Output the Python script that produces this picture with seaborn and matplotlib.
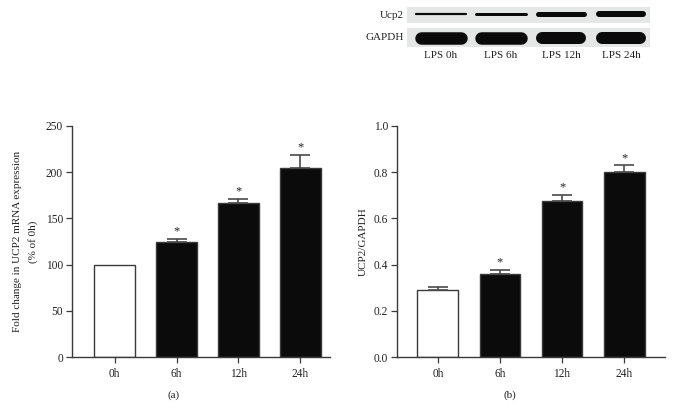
import numpy as np
import matplotlib
matplotlib.use("Agg")
import matplotlib.pyplot as plt
import seaborn as sns
import pandas as pd

# data
times = ["0h", "6h", "12h", "24h"]
mrna = [100, 125, 167, 205]
mrna_err = [0, 3, 4, 14]
ratio = [0.29, 0.36, 0.675, 0.80]
ratio_err = [0.015, 0.018, 0.028, 0.03]
bar_colors = ["white", "#0b0b0b", "#0b0b0b", "#0b0b0b"]

# western blot lanes
lanes = ["LPS 0h", "LPS 6h", "LPS 12h", "LPS 24h"]
ucp2_band = [2.2, 3.0, 5.0, 6.0]      # band thickness, px
ucp2_len = [0.84, 0.82, 0.76, 0.72]
gapdh_band = [12.5, 12.5, 12.0, 12.0]
gapdh_len = [0.68, 0.66, 0.64, 0.62]

sns.set_style("ticks")
plt.rcParams['font.family'] = ['Liberation Serif', 'DejaVu Serif']
plt.rcParams['font.size'] = 8

W, H = 674, 417
fig = plt.figure(figsize=(W / 100, H / 100), dpi=100)

def fx(px):
    return px / W

def fy(py):
    return 1 - py / H

ax1 = fig.add_axes([fx(72), fy(357), fx(330 - 72), fy(126) - fy(357)])
ax2 = fig.add_axes([fx(397), fy(357), fx(665 - 397), fy(126) - fy(357)])

edge = "#3a3a3a"
txt = "#222222"

def draw(ax, vals, errs, ymax, xlim, ticks, fmt):
    df = pd.DataFrame({"time": times, "val": vals})
    sns.barplot(data=df, x="time", y="val", hue="time", palette=bar_colors,
                width=0.66, edgecolor=edge, linewidth=1.0, legend=False,
                errorbar=None, ax=ax)
    for i, (v, e) in enumerate(zip(vals, errs)):
        if e > 0:
            ax.errorbar(i, v, yerr=[[0], [e]], fmt="none", ecolor="#4a4a4a",
                        elinewidth=1.2, capsize=7.5, capthick=1.2, zorder=1)
        if i > 0:
            ax.text(i, v + e + ymax * 0.006, "*", ha="center", va="bottom",
                    fontsize=9, color=txt)
    ax.set_ylim(0, ymax)
    ax.set_xlim(*xlim)
    ax.set_yticks(ticks)
    ax.set_yticklabels([fmt % t for t in ticks])
    sns.despine(ax=ax)
    ax.spines["left"].set_color(edge)
    ax.spines["bottom"].set_color(edge)
    ax.spines["left"].set_linewidth(1.0)
    ax.spines["bottom"].set_linewidth(1.0)
    ax.tick_params(axis="both", colors=edge, length=4, width=0.9,
                   labelcolor=txt, labelsize=8.3)
    ax.tick_params(axis="x", pad=4)
    ax.tick_params(axis="y", pad=2.5)
    ax.set_xlabel("")
    ax.patch.set_alpha(0)

draw(ax1, mrna, mrna_err, 250, (-0.69, 3.48), [0, 50, 100, 150, 200, 250], "%d")
draw(ax2, ratio, ratio_err, 1.0, (-0.66, 3.66), [0.0, 0.2, 0.4, 0.6, 0.8, 1.0], "%.1f")

ax1.set_ylabel("Fold change in UCP2 mRNA expression\n(% of 0h)", fontsize=8,
               color=txt, linespacing=1.8)
ax1.yaxis.set_label_coords(-0.13, 0.5)
ax2.set_ylabel("UCP2/GAPDH", fontsize=8, color=txt)
ax2.yaxis.set_label_coords(-0.11, 0.5)

fig.text(fx(174), fy(395), "(a)", ha="center", va="center", fontsize=8, color=txt)
fig.text(fx(510), fy(395), "(b)", ha="center", va="center", fontsize=8, color=txt)

# blot strips
blot_l, blot_r = 407, 650
lane0, lane_step = 441, 60
xl = ((blot_l - lane0) / lane_step, (blot_r - lane0) / lane_step)
strips = [("Ucp2", 7, 23, ucp2_band, ucp2_len, 0.58),
          ("GAPDH", 28, 47, gapdh_band, gapdh_len, 0.5)]
for name, top, bot, thick, lens, ypos in strips:
    bx = fig.add_axes([fx(blot_l), fy(bot), fx(blot_r - blot_l), fy(top) - fy(bot)])
    bx.set_facecolor("#e4e7e6")
    bx.set_xlim(*xl)
    bx.set_ylim(0, 1)
    for i, (t, L) in enumerate(zip(thick, lens)):
        bx.plot([i - L / 2, i + L / 2], [ypos, ypos], color="#0a0a0a",
                lw=t * 0.72, solid_capstyle="round")
    bx.set_xticks([])
    bx.set_yticks([])
    for s in bx.spines.values():
        s.set_visible(False)
    fig.text(fx(404), fy((top + bot) / 2), name, ha="right", va="center",
             fontsize=8, color=txt)

for i, lab in enumerate(lanes):
    fig.text(fx(lane0 + i * lane_step), fy(55), lab, ha="center", va="center",
             fontsize=8, color=txt)

fig.savefig("out.png", dpi=100)
